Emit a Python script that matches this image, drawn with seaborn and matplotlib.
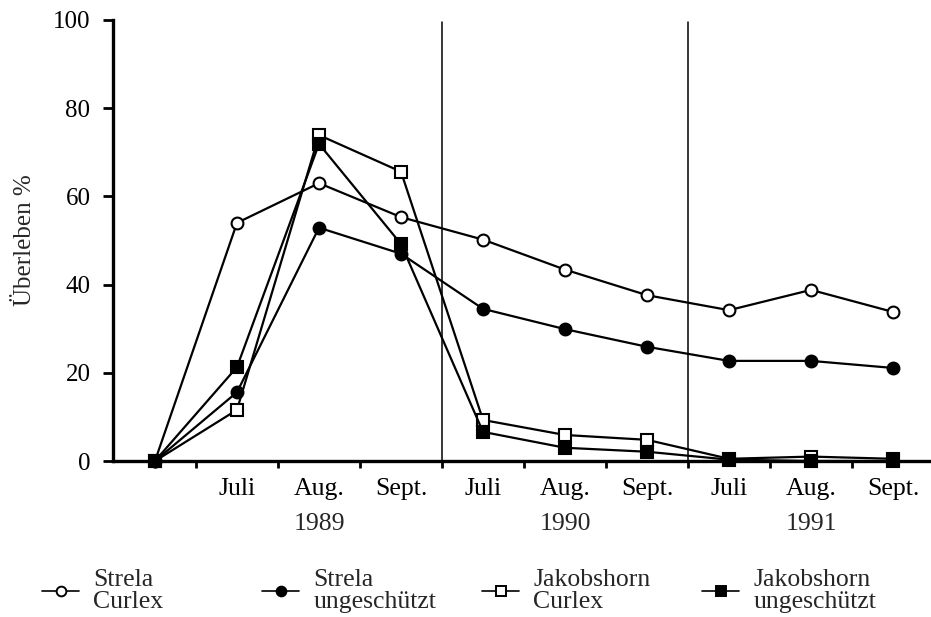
import matplotlib
matplotlib.use("Agg")
import matplotlib.pyplot as plt
import matplotlib.transforms as mtransforms
import seaborn as sns
import numpy as np
from matplotlib.lines import Line2D

# ---- data ----
positions = [0, 1, 2, 3, 4, 5, 6, 7, 8, 9]
month_labels = ["Juli", "Aug.", "Sept.", "Juli", "Aug.", "Sept.", "Juli", "Aug.", "Sept."]
year_labels = ["1989", "1990", "1991"]
year_positions = [2, 5, 8]
season_breaks = [3.5, 6.5]
strela_curlex = [0, 54.0, 63.0, 55.3, 50.2, 43.4, 37.6, 34.2, 38.8, 33.8]
strela_ungeschuetzt = [0, 15.6, 52.9, 47.0, 34.5, 29.9, 25.9, 22.7, 22.7, 21.1]
jakob_curlex = [0, 11.6, 73.9, 65.6, 9.3, 5.9, 4.8, 0.5, 1.0, 0.5]
jakob_ungeschuetzt = [0, 21.3, 71.9, 49.2, 6.6, 3.0, 2.1, 0.3, 0.0, 0.0]
series_names = ["Strela\nCurlex", "Strela\nungeschützt", "Jakobshorn\nCurlex", "Jakobshorn\nungeschützt"]

sns.set_theme(style="ticks")
plt.rcParams["font.family"] = ["Liberation Serif", "DejaVu Serif"]
FS = 18.5
FSY = 18

fig = plt.figure(figsize=(9.31, 6.17), dpi=100)
ax = fig.add_axes([113 / 931, 156 / 617, 818 / 931, 441 / 617])

styles = [
    (strela_curlex, "o", "white"),
    (strela_ungeschuetzt, "o", "black"),
    (jakob_curlex, "s", "white"),
    (jakob_ungeschuetzt, "s", "black"),
]
handles = []
for (vals, mk, fc), name in zip(styles, series_names):
    sns.lineplot(x=positions, y=vals, ax=ax, color="black", linewidth=1.6,
                 marker=mk, markersize=8.5, markerfacecolor=fc,
                 markeredgecolor="black", markeredgewidth=1.5, clip_on=False,
                 zorder=3)
    handles.append(Line2D([], [], color="black", linewidth=1.2, marker=mk,
                          markersize=7, markerfacecolor=fc,
                          markeredgecolor="black", markeredgewidth=1.4))

for b in season_breaks:
    ax.axvline(b, ymin=0, ymax=0.995, color="black", linewidth=1.1, zorder=1)

ax.set_xlim(-0.512, 9.463)
ax.set_ylim(0, 100)
ax.set_yticks([0, 20, 40, 60, 80, 100])
ax.set_xticks(positions[1:])
ax.set_xticklabels(month_labels)
ax.set_xticks(np.array(positions[:-1]) + 0.5, minor=True)
ax.tick_params(axis="x", which="major", length=0, pad=12, labelsize=FS, colors="black")
ax.tick_params(axis="x", which="minor", length=5, width=2, direction="out", color="black")
ax.tick_params(axis="y", length=7.2, width=2, direction="out", pad=9, labelsize=FSY, colors="black")
for s in ["top", "right"]:
    ax.spines[s].set_visible(False)
for s in ["left", "bottom"]:
    ax.spines[s].set_linewidth(2.4)
    ax.spines[s].set_color("black")
ax.set_ylabel("Überleben %", fontsize=FSY, labelpad=12)
ax.set_xlabel("")

trans = mtransforms.blended_transform_factory(ax.transData, fig.transFigure)
for yl, yp in zip(year_labels, year_positions):
    ax.text(yp, 1 - 524 / 617, yl, transform=trans,
            ha="center", va="center", fontsize=FS)

legend_x = [42, 262, 482, 702]
for h, name, lx in zip(handles, series_names, legend_x):
    leg = fig.legend([h], [name], loc="center left",
                     bbox_to_anchor=(lx / 931, 1 - 591 / 617),
                     frameon=False, fontsize=FS, handlelength=1.45,
                     handletextpad=0.55, borderpad=0, borderaxespad=0)
    for t in leg.get_texts():
        t.set_linespacing(0.95)

fig.savefig("out.png", dpi=100)
